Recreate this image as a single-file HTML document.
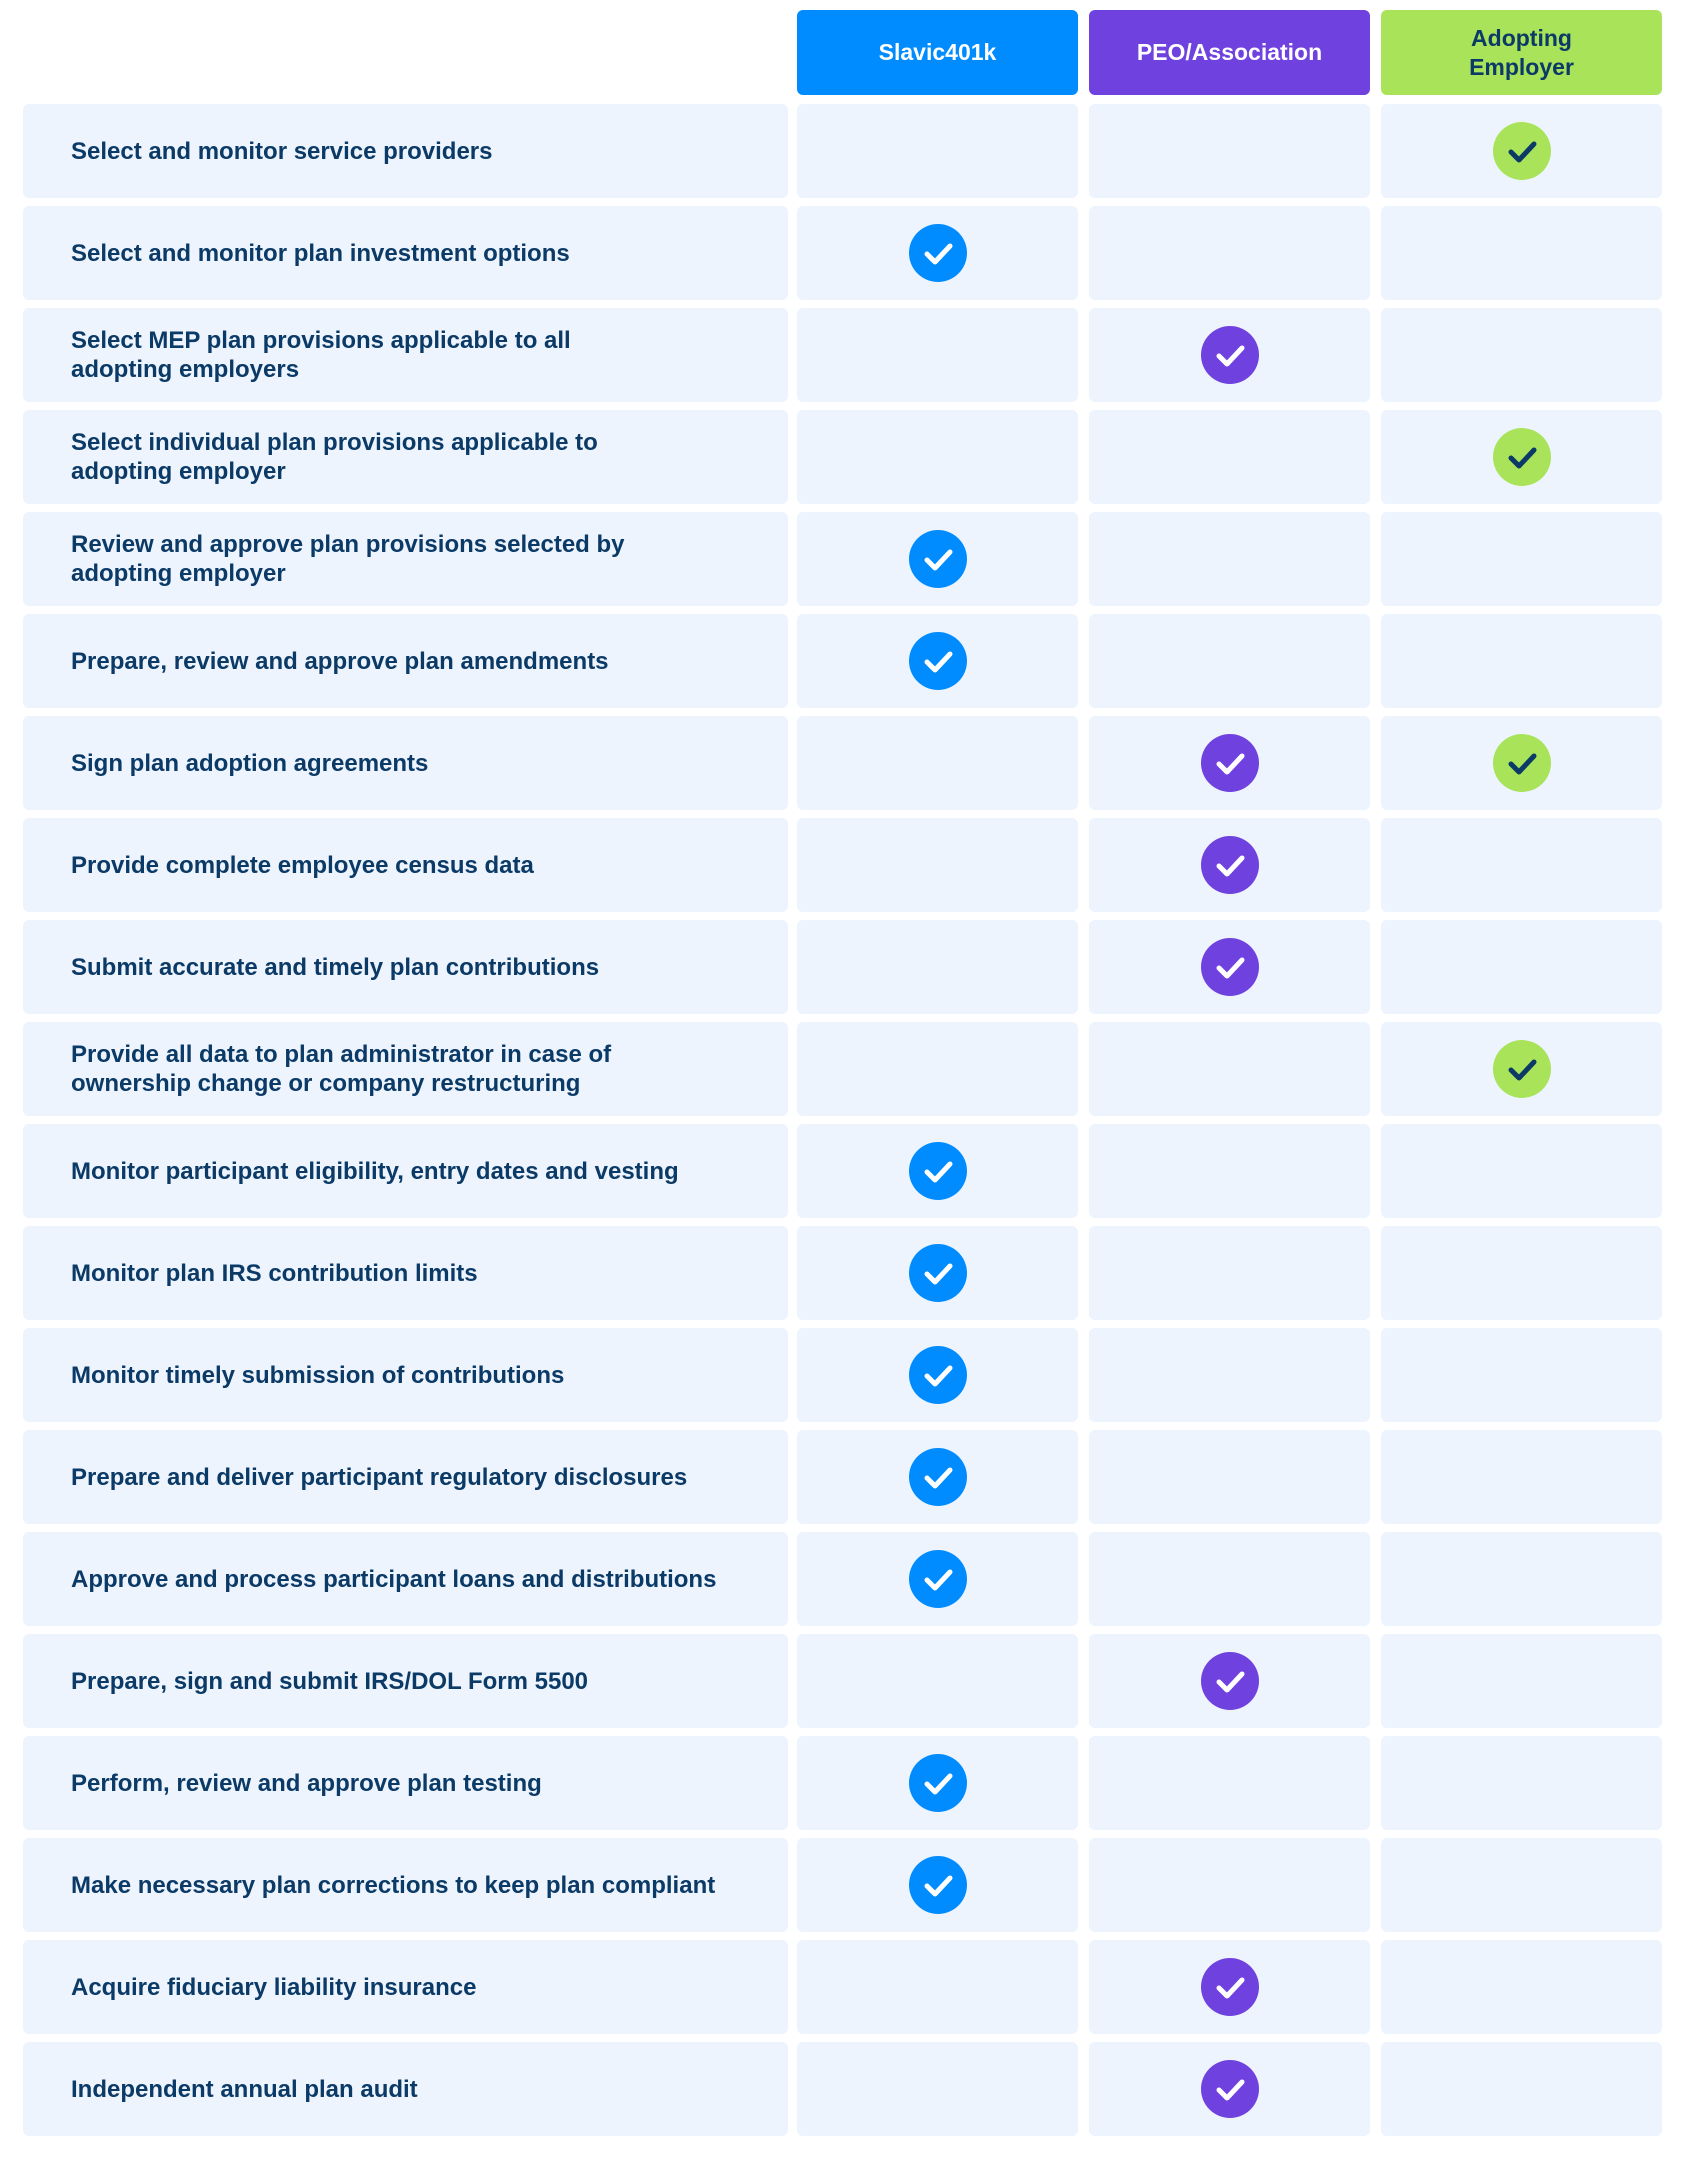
<!DOCTYPE html>
<html><head><meta charset="utf-8"><style>
html,body{margin:0;padding:0;background:#fff;width:1687px;height:2161px;overflow:hidden}
body{position:relative;font-family:"Liberation Sans",sans-serif}
.h{position:absolute;top:10px;height:85px;border-radius:6px;display:flex;align-items:center;justify-content:center;text-align:center;font-weight:bold;font-size:23px;line-height:29px;color:#fff}
.c{position:absolute;height:94px;background:#edf4fe;border-radius:6px}
.lab{display:flex;align-items:center;padding-left:48px;box-sizing:border-box;font-weight:bold;font-size:24px;line-height:29px;color:#0b3a66}
.chk{position:absolute;width:58px;height:58px;border-radius:50%;left:50%;top:50%;margin:-29px 0 0 -29px}
</style></head><body>
<div class="h" style="left:797px;width:281px;background:#008cff">Slavic401k</div>
<div class="h" style="left:1089px;width:281px;background:#6f42e0">PEO/Association</div>
<div class="h" style="left:1381px;width:281px;background:#a8e35a;color:#0b3a66">Adopting<br>Employer</div>
<div id="rows"></div>
<script>
const tasks=["Select and monitor service providers","Select and monitor plan investment options","Select MEP plan provisions applicable to all<br>adopting employers","Select individual plan provisions applicable to<br>adopting employer","Review and approve plan provisions selected by<br>adopting employer","Prepare, review and approve plan amendments","Sign plan adoption agreements","Provide complete employee census data","Submit accurate and timely plan contributions","Provide all data to plan administrator in case of<br>ownership change or company restructuring","Monitor participant eligibility, entry dates and vesting","Monitor plan IRS contribution limits","Monitor timely submission of contributions","Prepare and deliver participant regulatory disclosures","Approve and process participant loans and distributions","Prepare, sign and submit IRS/DOL Form 5500","Perform, review and approve plan testing","Make necessary plan corrections to keep plan compliant","Acquire fiduciary liability insurance","Independent annual plan audit"];
const slavic=[0,1,0,0,1,1,0,0,0,0,1,1,1,1,1,0,1,1,0,0];
const peo=[0,0,1,0,0,0,1,1,1,0,0,0,0,0,0,1,0,0,1,1];
const employer=[1,0,0,1,0,0,1,0,0,1,0,0,0,0,0,0,0,0,0,0];
const cols=[{x:797,w:281,bg:"#008cff",ck:"#fff",d:slavic,n:"slavic"},{x:1089,w:281,bg:"#6f42e0",ck:"#fff",d:peo,n:"peo"},{x:1381,w:281,bg:"#a8e35a",ck:"#0b3a66",d:employer,n:"employer"}];
const root=document.getElementById('rows');
tasks.forEach((t,i)=>{
  const y=104+i*102;
  const l=document.createElement('div');
  l.className='c lab';
  
  
  l.style.cssText=`left:23px;width:765px;top:${y}px`;
  l.innerHTML=t;root.appendChild(l);
  cols.forEach(c=>{
    const cell=document.createElement('div');
    cell.className='c';
    
    
    cell.style.cssText=`left:${c.x}px;width:${c.w}px;top:${y}px`;
    if(c.d[i]){
      const k=document.createElement('div');
      k.className='chk';
      
      
      k.style.background=c.bg;
      k.innerHTML=`<svg width="58" height="58" viewBox="0 0 58 58"><path d="M18 30 L26 38 L41 22" fill="none" stroke="${c.ck}" stroke-width="5" stroke-linecap="round" stroke-linejoin="round"/></svg>`;
      cell.appendChild(k);
    }
    root.appendChild(cell);
  });
});
</script>
</body></html>
